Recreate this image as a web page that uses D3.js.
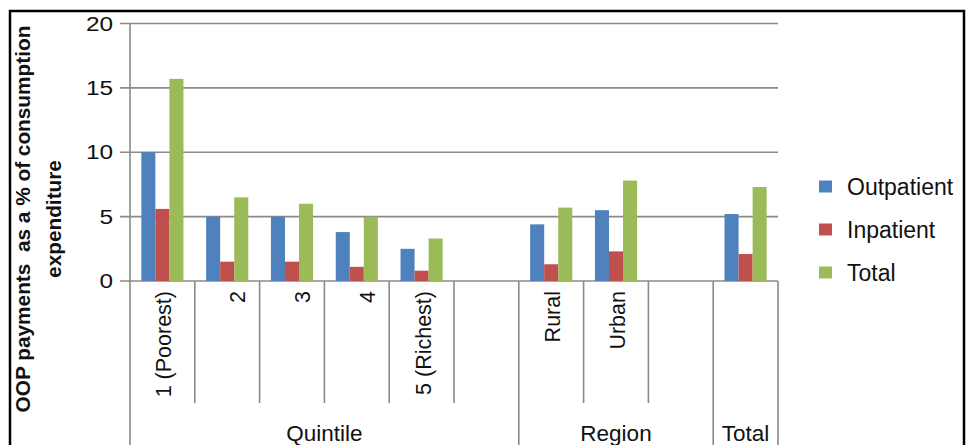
<!DOCTYPE html>
<html>
<head>
<meta charset="utf-8">
<script src="https://cdn.jsdelivr.net/npm/d3@7"></script>
<style>
  html, body { margin: 0; padding: 0; background: #fff; }
  svg { display: block; font-family: "Liberation Sans", Arial, Helvetica, sans-serif; }
</style>
</head>
<body>
<svg id="chart" width="967" height="445"></svg>
<script>
// Out-of-pocket payments by quintile, region and overall
const categories = ["1 (Poorest)", "2", "3", "4", "5 (Richest)", "", "Rural", "Urban", "", ""];
const outpatient = [10.0, 5.0, 5.0, 3.8, 2.5, null, 4.4, 5.5, null, 5.2];
const inpatient  = [5.6, 1.5, 1.5, 1.1, 0.8, null, 1.3, 2.3, null, 2.1];
const totals     = [15.7, 6.5, 6.0, 5.0, 3.3, null, 5.7, 7.8, null, 7.3];
const seriesNames = ["Outpatient", "Inpatient", "Total"];
const seriesColors = ["#4f81bd", "#c0504d", "#9bbb59"];
const groupNames = ["Quintile", "Region", "Total"];
const groupSpans = [6, 3, 1];
const yTicks = [0, 5, 10, 15, 20];

const svg = d3.select("#chart");
const W = 967, H = 445;
const plot = { left: 130, right: 778, top: 23.5, bottom: 281 };
const textColor = "#111";

// outer frame
svg.append("rect")
  .attr("x", 10).attr("y", 11).attr("width", 954).attr("height", 500)
  .attr("fill", "#fff").attr("stroke", "#000").attr("stroke-width", 2.5);

const x0 = d3.scaleBand()
  .domain(d3.range(categories.length))
  .range([plot.left, plot.right])
  .padding(0);
const x1 = d3.scaleBand()
  .domain(seriesNames)
  .range([x0.bandwidth() * 0.175, x0.bandwidth() * 0.825])
  .padding(0);
const y = d3.scaleLinear().domain([0, 20]).range([plot.bottom, plot.top]);

const gridColor = "#8a8a8a";

// gridlines and ticks
const gy = svg.append("g");
gy.selectAll("line.grid").data(yTicks).join("line")
  .attr("class", "grid")
  .attr("x1", plot.left - 10).attr("x2", plot.right)
  .attr("y1", d => y(d)).attr("y2", d => y(d))
  .attr("stroke", gridColor).attr("stroke-width", 1.6);
gy.selectAll("text").data(yTicks).join("text")
  .attr("transform", d => `translate(113,${y(d)}) scale(1.25,1)`)
  .attr("text-anchor", "end")
  .attr("dy", "0.36em")
  .attr("font-size", 19.5)
  .attr("fill", textColor)
  .text(d => d);

// bars
const series = [outpatient, inpatient, totals];
const barG = svg.append("g");
series.forEach((vals, si) => {
  barG.selectAll(null)
    .data(vals.map((v, i) => ({ v, i })).filter(d => d.v != null))
    .join("rect")
    .attr("x", d => x0(d.i) + x1(seriesNames[si]))
    .attr("width", x1.bandwidth())
    .attr("y", d => y(d.v))
    .attr("height", d => y(0) - y(d.v))
    .attr("fill", seriesColors[si]);
});

// category axis: separators between categories and between groups
const groupEnds = groupSpans.map((s, i) => d3.sum(groupSpans.slice(0, i + 1)));
const axisG = svg.append("g");
axisG.append("line")
  .attr("x1", plot.left).attr("x2", plot.left)
  .attr("y1", plot.top).attr("y2", H)
  .attr("stroke", gridColor).attr("stroke-width", 1.6);
d3.range(1, categories.length + 1).forEach(i => {
  const xx = i < categories.length ? x0(i) : plot.right;
  const isGroup = groupEnds.includes(i);
  axisG.append("line")
    .attr("x1", xx).attr("x2", xx)
    .attr("y1", plot.bottom).attr("y2", isGroup ? H : 403)
    .attr("stroke", gridColor).attr("stroke-width", 1.6);
});

// category labels, rotated
axisG.selectAll("text.cat").data(categories.map((c, i) => ({ c, i })).filter(d => d.c))
  .join("text")
  .attr("class", "cat")
  .attr("transform", d => `translate(${x0(d.i) + x0.bandwidth() / 2 + (d.c.length < 2 ? 18 : 9)},291) rotate(-90)`)
  .attr("text-anchor", "end")
  .attr("font-size", 21.5)
  .attr("fill", textColor)
  .text(d => d.c);

// group labels
let start = 0;
groupNames.forEach((g, gi) => {
  const a = x0(start);
  const end = start + groupSpans[gi];
  const b = end < categories.length ? x0(end) : plot.right;
  axisG.append("text")
    .attr("x", (a + b) / 2).attr("y", 441)
    .attr("text-anchor", "middle")
    .attr("font-size", 22.5)
    .attr("fill", textColor)
    .text(g);
  start = end;
});

// y-axis title
const title = svg.append("text")
  .attr("transform", "translate(0,219) rotate(-90)")
  .attr("text-anchor", "middle")
  .attr("font-size", 20.8)
  .attr("font-weight", "bold")
  .attr("fill", textColor)
  .style("white-space", "pre");
title.append("tspan").attr("x", 0).attr("y", 30).text("OOP payments  as a % of consumption");
title.append("tspan").attr("x", 0).attr("y", 60.5).text("expenditure");

// legend
const leg = svg.append("g");
seriesNames.forEach((s, i) => {
  const cy = 186.5 + i * 43;
  leg.append("rect")
    .attr("x", 819).attr("y", cy - 6).attr("width", 13).attr("height", 12)
    .attr("fill", seriesColors[i]);
  leg.append("text")
    .attr("x", 847).attr("y", cy + 8.5)
    .attr("font-size", 23)
    .attr("fill", textColor)
    .text(s);
});
</script>
</body>
</html>
